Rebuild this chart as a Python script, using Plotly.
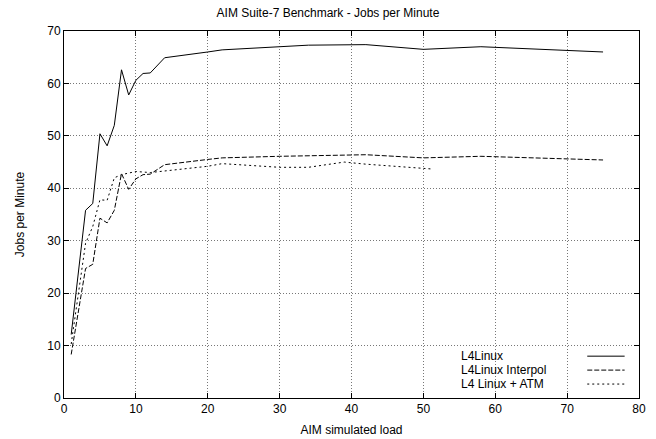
import plotly.graph_objects as go

# ---- data ----
title_text = "AIM Suite-7 Benchmark - Jobs per Minute"
x_label = "AIM simulated load"
y_label = "Jobs per Minute"

series_names = ["L4Linux", "L4Linux Interpol", "L4 Linux + ATM"]

x_l4 = [1, 3, 4, 5, 6, 7, 8, 9, 10, 11, 12, 14, 20, 22, 30, 34, 42, 50, 58, 75]
y_l4 = [12.1, 35.8, 37.1, 50.4, 48.1, 52.0, 62.6, 57.8, 60.6, 61.9, 62.0, 64.9,
        66.0, 66.4, 67.0, 67.3, 67.4, 66.5, 67.0, 66.0]

x_interp = [1, 3, 4, 5, 6, 7, 8, 9, 10, 11, 12, 14, 20, 22, 30, 42, 50, 58, 75]
y_interp = [8.3, 24.7, 25.5, 34.3, 33.4, 35.8, 42.8, 39.8, 41.8, 42.6, 42.7, 44.5,
            45.5, 45.8, 46.1, 46.4, 45.8, 46.1, 45.4]

x_atm = [1, 3, 4, 5, 6, 7, 8, 10, 12, 20, 22, 30, 34, 39, 42, 51]
y_atm = [10.3, 29.5, 32.7, 37.8, 37.7, 42.0, 42.6, 43.2, 43.0, 44.2, 44.7, 44.0,
         44.0, 45.0, 44.6, 43.7]

x_ticks = [0, 10, 20, 30, 40, 50, 60, 70, 80]
y_ticks = [0, 10, 20, 30, 40, 50, 60, 70]

# ---- styles ----
dashes = ["solid", "5px,2px", "2px,3px"]
font_family = "Liberation Sans, Arial, sans-serif"

fig = go.Figure()
for name, xs, ys, d in zip(series_names,
                           [x_l4, x_interp, x_atm],
                           [y_l4, y_interp, y_atm], dashes):
    fig.add_trace(go.Scatter(x=xs, y=ys, mode="lines", name=name,
                             line=dict(color="black", width=1, dash=d)))

# manual gnuplot-style legend (text left, sample right)
leg_y = [0.114, 0.076, 0.038]
for name, d, yy in zip(series_names, dashes, leg_y):
    fig.add_annotation(xref="paper", yref="paper", x=0.687, y=yy, text=name,
                       showarrow=False, xanchor="left", yanchor="middle",
                       font=dict(family=font_family, size=12, color="black"))
    fig.add_shape(type="line", xref="paper", yref="paper",
                  x0=0.91, x1=0.975, y0=yy, y1=yy,
                  line=dict(color="black", width=1, dash=d))

axis_common = dict(
    showline=True, linecolor="black", linewidth=1, mirror="ticks",
    ticks="inside", ticklen=5, tickcolor="black",
    showgrid=True, gridcolor="#777777", gridwidth=1, griddash="1px,2px",
    zeroline=False, automargin=False,
    tickfont=dict(family=font_family, size=12, color="black"),
)

fig.update_xaxes(range=[0, 80], tickvals=x_ticks, title=dict(text=x_label, standoff=10,
                 font=dict(family=font_family, size=12, color="black")), **axis_common)
fig.update_yaxes(range=[0, 70], tickvals=y_ticks, title=dict(text=y_label, standoff=20,
                 font=dict(family=font_family, size=12, color="black")), **axis_common)

fig.update_layout(
    width=656, height=439,
    margin=dict(l=64, r=17, t=31, b=41),
    paper_bgcolor="white", plot_bgcolor="white",
    showlegend=False,
    hovermode=False,
    title=dict(text=title_text, x=0.5, xanchor="center", y=0.97, yanchor="middle",
               font=dict(family=font_family, size=12, color="black")),
)

fig.write_html("out.html",
               config={"displayModeBar": False, "staticPlot": True},
               post_script="document.body.style.margin='0';document.body.style.overflow='hidden';")
